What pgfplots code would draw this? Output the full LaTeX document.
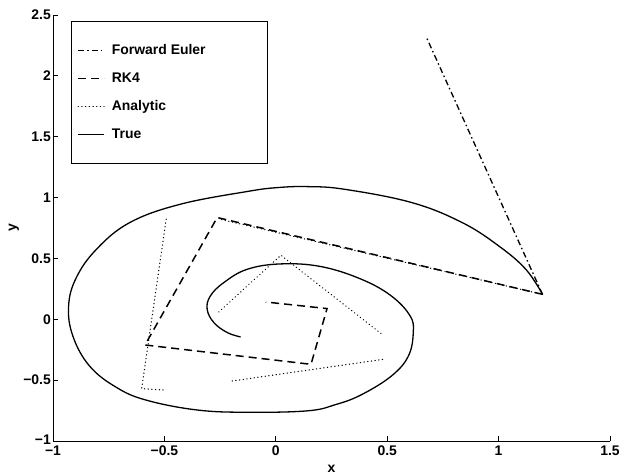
\documentclass[border=0pt]{standalone}
\usepackage{fontspec}
\setmainfont{Liberation Sans}
\usepackage{pgfplots}
\pgfplotsset{compat=1.18}
\begin{document}
\begin{tikzpicture}
\useasboundingbox (-53bp,-34bp) rectangle (566bp,441bp);
\begin{axis}[
  scale only axis, width=557bp, height=426bp,
  xmin=-1, xmax=1.5, ymin=-1, ymax=2.5,
  axis x line*=bottom, axis y line*=left,
  axis line style={line width=1pt, black},
  tick align=inside, major tick length=5bp,
  tick style={line width=0.8pt, black},
  xtick={-1,-0.5,0,0.5,1,1.5}, xticklabels={−1,−0.5,0,0.5,1,1.5},
  ytick={-1,-0.5,0,0.5,1,1.5,2,2.5}, yticklabels={\raisebox{3bp}{−1},−0.5,0,0.5,1,1.5,2,2.5},
  ticklabel style={font=\fontsize{14}{16}\selectfont\bfseries},
  xticklabel style={inner ysep=5bp},
  yticklabel style={inner xsep=2bp},
  label style={font=\fontsize{14}{16}\selectfont\bfseries},
  xlabel={x}, ylabel={y},
  xlabel style={at={(axis description cs:0.5,-0.0745)}, anchor=base, inner sep=0pt},
  ylabel style={at={(axis description cs:-0.07,0.5)}, anchor=center, rotate=0},
  legend cell align=left,
  legend image code/.code={\draw[#1] (0bp,0bp) -- (26bp,0bp);},
  legend style={at={(axis description cs:0.0323,0.986)}, anchor=north west,
    draw=black, line width=0.8pt, inner xsep=6bp, inner ysep=15bp,
    row sep=0pt, column sep=7bp,
    nodes={minimum height=28bp, inner sep=0pt},
    font=\fontsize{14}{16}\selectfont\bfseries},
]
% Forward Euler
\addplot[black, line width=1.3pt, dash pattern=on 6bp off 3bp on 1.5bp off 3bp] coordinates {
(1.197,0.205) (0.676,2.317)
};
\addlegendentry{\makebox[150bp][l]{Forward Euler}}
% RK4
\addplot[black, line width=1.5pt, dash pattern=on 8bp off 5bp] coordinates {
(1.197,0.205) (-0.263,0.836) (-0.587,-0.211) (0.158,-0.370) (0.230,0.088) (-0.045,0.142)
};
\addlegendentry{\makebox[150bp][l]{RK4}}
% Analytic
\addplot[black, line width=1.2pt, line cap=round, dash pattern=on 0.3bp off 3.4bp] coordinates {
(1.197,0.205) (-0.250,0.822)
};
\addlegendentry{\makebox[150bp][l]{Analytic}}
% True
\addplot[black, line width=1.3pt, smooth, tension=0.65] coordinates {
(1.197,0.205) (1.122,0.411) (1.001,0.602) (0.836,0.795) (0.610,0.959)
(0.309,1.068) (0.143,1.090) (0.008,1.082) (-0.128,1.050) (-0.429,0.945) (-0.655,0.795)
(-0.805,0.575) (-0.896,0.340) (-0.930,0.109) (-0.911,-0.137) (-0.836,-0.384) (-0.715,-0.560)
(-0.580,-0.665) (-0.354,-0.745) (-0.128,-0.764) (0.143,-0.752) (0.270,-0.700) (0.384,-0.620)
(0.519,-0.466) (0.595,-0.302) (0.617,-0.109) (0.603,0.027) (0.519,0.191) (0.384,0.329)
(0.203,0.433) (0.023,0.455) (-0.128,0.411) (-0.233,0.302) (-0.294,0.191) (-0.308,0.082)
(-0.278,-0.027) (-0.218,-0.109) (-0.158,-0.145)
};
\addlegendentry{\makebox[150bp][l]{True}}
% remaining Analytic segments
\addplot[forget plot, black, line width=1.2pt, line cap=round, dash pattern=on 0.3bp off 3.4bp] coordinates {
(-0.492,0.822) (-0.602,-0.570) (-0.504,-0.581)
};
\addplot[forget plot, black, line width=1.2pt, line cap=round, dash pattern=on 0.3bp off 3.4bp] coordinates {
(-0.196,-0.507) (0.482,-0.329)
};
\addplot[forget plot, black, line width=1.2pt, line cap=round, dash pattern=on 0.3bp off 3.4bp] coordinates {
(-0.256,0.060) (0.023,0.526) (0.482,-0.131)
};
\end{axis}
\end{tikzpicture}
\end{document}
